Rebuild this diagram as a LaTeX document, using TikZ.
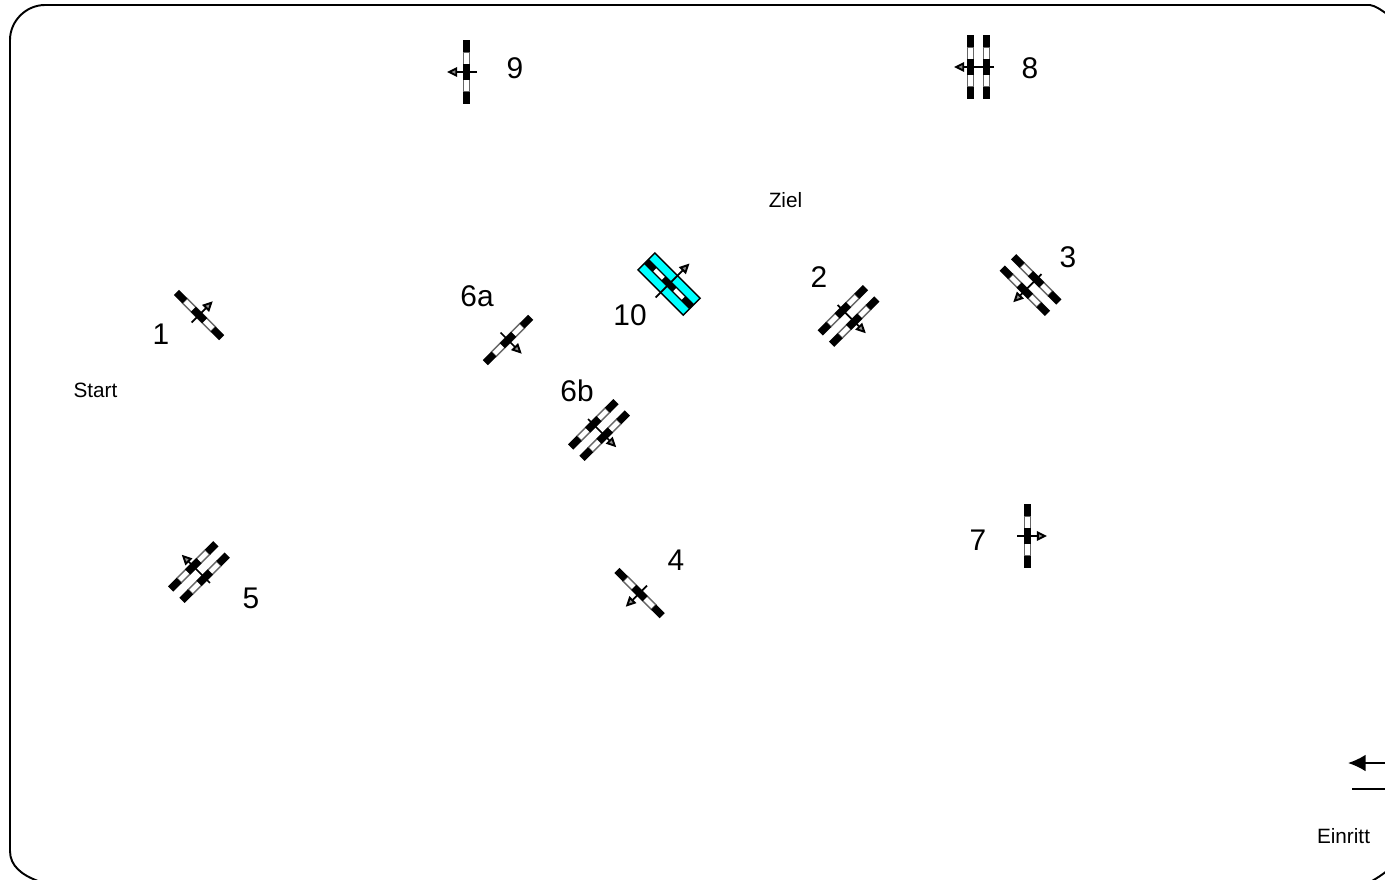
\documentclass[tikz,border=0pt]{standalone}
\usepackage{fontspec}
\setmainfont{Liberation Sans}
\usetikzlibrary{arrows.meta}
\definecolor{gatecyan}{RGB}{0,255,255}
\tikzset{
	blackseg/.style={fill=black,draw=none},
	whiteseg/.style={fill=white,draw=black!60,line width=0.8pt},
	gatearrow/.style={line width=1pt,-{Triangle[length=5.8pt,width=5.4pt,line width=1.1pt,fill=black!45]}},
	biglabel/.style={font=\fontsize{17}{20}\selectfont},
	smalllabel/.style={font=\fontsize{11.8}{14}\selectfont}
}
\newcommand{\gatebar}[1]{
	\draw[whiteseg] (#1-3.2,-20) rectangle (#1+3.2,20);
	\fill[blackseg] (#1-3.7,-32) rectangle (#1+3.7,-20);
	\fill[blackseg] (#1-3.7,-8) rectangle (#1+3.7,8);
	\fill[blackseg] (#1-3.7,20) rectangle (#1+3.7,32);
}
\begin{document}
\begin{tikzpicture}[x=0.02cm,y=-0.02cm]
		\useasboundingbox (0,0) rectangle (1385,879);
		\clip (0,0) rectangle (1385,879);
		\fill[white] (0,0) rectangle (1385,879);
		% frame, its corners are cut by the page
		\draw[line width=1.1pt] (38,881) .. controls (22,875) and (10,866) .. (10,851) -- (10,40)
		.. controls (10,21) and (26,5) .. (45,5) -- (1370,5) .. controls (1376,6) and (1381,10) .. (1390,16);
		\draw[line width=1.1pt] (1372,881) .. controls (1377,878) and (1382,875) .. (1388,870);
		% single gates
		\foreach \x/\y/\a in {199/315/45,508/340/-45,466.5/72/180,1027.5/536/0,639.5/593/225}{
		\begin{scope}[shift={(\x,\y)},rotate=\a]
		\gatebar{0}
		\draw[gatearrow] (-10.5,0) -- (19.5,0);
		\end{scope}
		}
		% double gates
		\foreach \x/\y/\a in {848.5/316/-45,1030.5/285/225,199/572/135,599/430/-45,978.5/67/180}{
		\begin{scope}[shift={(\x,\y)},rotate=\a]
		\gatebar{-8}
		\gatebar{8}
		\draw[gatearrow] (-15.5,0) -- (24.5,0);
		\end{scope}
		}
		% gate in the target
		\begin{scope}[shift={(669,284)},rotate=45]
		\draw[fill=gatecyan,line width=0.8pt] (-12,-32) rectangle (12,32);
		\fill[black] (-3.5,-32) rectangle (3.5,32);
		\fill[white] (-2,-20) rectangle (2,-8);
		\fill[white] (-2,8) rectangle (2,20);
		\draw[gatearrow] (-19,0) -- (29,0);
		\end{scope}
		
		\foreach \t/\x/\y in {1/161/334,2/819/277,3/1068/257,4/676/560,5/251/598,6a/477/296,6b/577/391,7/978/540,8/1030/68,9/515/68,10/630/315}{
		\node[biglabel] (lab\t) at (\x,\y) {\t};
		}
		\node[smalllabel] (start) at (95.5,390) {Start};
		\node[smalllabel] (ziel) at (785.5,200) {Ziel};
		\node[smalllabel] (einritt) at (1343.5,836) {Einritt};
		
		\coordinate (arrowend) at (1385,763);
		\coordinate (arrowtip) at (1348,763);
		\coordinate (lineend) at (1385,789);
		\coordinate (linestart) at (1352,789);
		\draw[line width=1pt,-{Latex[length=10pt,width=9.5pt]}] (arrowend) -- (arrowtip);
		\draw[line width=1pt] (lineend) -- (linestart);
		\end{tikzpicture}
\end{document}
